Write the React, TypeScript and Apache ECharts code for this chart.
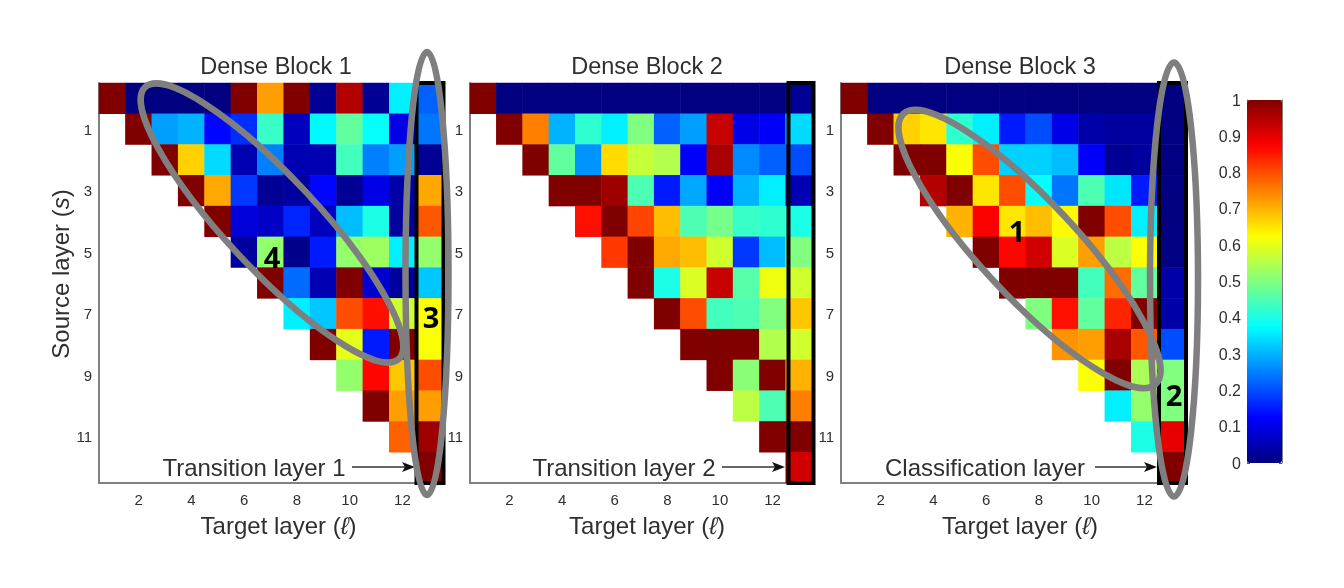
import React, { useEffect, useRef } from "react";
import * as echarts from "echarts";

const targetLayers = ["1","2","3","4","5","6","7","8","9","10","11","12","13"];
const sourceLayers = ["0","1","2","3","4","5","6","7","8","9","10","11","12"];
const jetColors = ["#000080","#0000ff","#0080ff","#00ffff","#80ff80","#ffff00","#ff8000","#ff0000","#800000"];
const colorbarTicks = [0, 1];

// each row starts on the diagonal: row r's first value belongs to column r + 1
const block1Rows = [
  [1,0,0,0,0,1,.72,1,.02,.95,.02,.36,.22],
  [1,.28,.3,.13,.17,.43,.06,.37,.47,.38,.1,.24],
  [1,.67,.34,.05,.25,.05,.05,.44,.25,.28,.02],
  [1,.71,.18,.02,.03,.13,.02,.1,.04,.71],
  [1,.09,.07,.16,.06,.31,.4,.03,.79],
  [.03,.52,.01,.15,.52,.53,.36,.52],
  [1,.23,.05,1,.08,.03,.32],
  [.36,.32,.8,.86,.58,.62],
  [1,.6,.15,1,.62],
  [.52,.87,.68,.8],
  [1,.72,.72],
  [.78,.97],
  [1],
];
const block2Rows = [
  [1,0,0,0,0,0,0,0,0,0,0,0,.02],
  [1,.75,.3,.42,.36,.5,.22,.28,.93,.1,.12,.34],
  [1,.47,.27,.66,.57,.55,.12,.96,.26,.22,.2],
  [1,1,.97,.45,.15,.29,.12,.3,.36,.05],
  [.86,1,.81,.69,.45,.49,.43,.42,.4],
  [.82,1,.71,.69,.58,.18,.31,.5],
  [1,.4,.59,.93,.46,.61,.58],
  [1,.8,.44,.45,.5,.68],
  [1,1,1,.55,.58],
  [1,.51,1,.7],
  [.56,.45,.75],
  [1,1],
  [.92],
];
const block3Rows = [
  [1,0,0,0,0,0,0,0,0,0,0,0,0],
  [1,.67,.65,.42,.36,.15,.2,.1,.04,.03,.03,0],
  [1,1,.62,.8,.33,.33,.31,.12,.02,.03,0],
  [.95,1,.65,.8,.38,.24,.45,.35,.15,0],
  [.7,.88,.65,.69,.63,1,.8,.36,0],
  [1,.87,.92,.59,.72,.56,.62,0],
  [1,1,1,.44,.77,.47,.04],
  [.5,.86,.47,.84,1,.04],
  [.73,.72,.96,.79,.2],
  [.62,1,.54,.5],
  [.36,.52,.5],
  [.4,.9],
  [1],
];
const titles = ["Dense Block 1", "Dense Block 2", "Dense Block 3"];
const notes = ["Transition layer 1", "Transition layer 2", "Classification layer"];

const font = "'Liberation Sans', Arial, sans-serif";
const axisGray = "#808080";
const textGray = "#2f2f2f";

const panels = [
  { left: 99, width: 343, titleX: 276, noteX: 254, arrow: [352, 415], box: [416.5, 443.5], nameShift: 16 },
  { left: 470, width: 342, titleX: 647, noteX: 624, arrow: [722, 785], box: [788.5, 813.5], nameShift: 12 },
  { left: 841, width: 343, titleX: 1020, noteX: 985, arrow: [1095, 1157], box: [1159, 1186], nameShift: 15 },
];
const top = 83;
const height = 400;

function cells(rows: number[][]) {
  const out: number[][] = [];
  rows.forEach((row, r) => row.forEach((v, i) => out.push([r + i, r, v])));
  return out;
}

function arrow(x0: number, x1: number, y: number) {
  return [
    { type: "line", silent: true, shape: { x1: x0, y1: y, x2: x1 - 6, y2: y }, style: { stroke: "#333", lineWidth: 1.6 } },
    { type: "polygon", silent: true, shape: { points: [[x1, y], [x1 - 13, y - 5], [x1 - 10, y], [x1 - 13, y + 5]] }, style: { fill: "#111" } },
  ];
}

function ellipse(x: number, y: number, rx: number, ry: number, deg: number) {
  return {
    type: "ellipse", silent: true, x, y, rotation: (deg * Math.PI) / 180, z: 20,
    shape: { cx: 0, cy: 0, rx, ry },
    style: { fill: "none", stroke: "#7f7f7f", lineWidth: 6.5 },
  };
}

function badge(text: string, x: number, y: number) {
  return {
    type: "text", silent: true, x, y, z: 30,
    style: { text, fill: "#000", font: "bold 29px 'Open Sans', 'Noto Sans', sans-serif", align: "center", verticalAlign: "middle" },
  };
}

export default function App() {
  const ref = useRef<HTMLDivElement>(null);
  useEffect(() => {
    const chart = echarts.init(ref.current!, undefined, { renderer: "svg" });
    const blocks = [block1Rows, block2Rows, block3Rows];
    const labelStyle = { color: textGray, fontFamily: font, fontSize: 15 };
    const nameRich = {
      a: { fontFamily: font, fontSize: 24, color: textGray },
      i: { fontFamily: font, fontSize: 24, color: textGray, fontStyle: "italic" as const },
    };
    const graphic: any[] = [];
    panels.forEach((p, i) => {
      graphic.push({
        type: "rect", silent: true, z: 10,
        shape: { x: p.box[0], y: top, width: p.box[1] - p.box[0], height },
        style: { fill: "none", stroke: "#000", lineWidth: 4 },
      });
      graphic.push({
        type: "text", silent: true, x: p.noteX, y: 467, z: 10,
        style: { text: notes[i], fill: textGray, font: `24px ${font}`, align: "center", verticalAlign: "middle" },
      });
      graphic.push(...arrow(p.arrow[0], p.arrow[1], 467));
    });
    graphic.push(ellipse(272, 223, 186, 46, -47));
    graphic.push(ellipse(1029.5, 249, 185, 48, -47));
    graphic.push(ellipse(427, 273.5, 21.5, 221.5, 0));
    graphic.push(ellipse(1174, 279.5, 24, 217, 0));
    graphic.push(badge("4", 272, 256), badge("3", 431, 316), badge("1", 1017, 230), badge("2", 1174, 394));

    chart.setOption({
      animation: false,
      backgroundColor: "#fff",
      title: panels.map((p, i) => ({
        text: titles[i], left: p.titleX, top: 54, textAlign: "center", padding: 0,
        textStyle: { fontFamily: font, fontSize: 23.5, fontWeight: "normal", color: textGray },
      })),
      grid: [
        ...panels.map((p) => ({ left: p.left, top, width: p.width, height })),
        { left: 1247, top: 100, width: 35, height: 363 },
      ],
      xAxis: [
        ...panels.map((p, i) => ({
          type: "category", gridIndex: i, data: targetLayers, position: "bottom",
          name: "{a|Target layer (}{i|ℓ}{a|)}", nameLocation: "middle", nameGap: 30,
          nameTextStyle: { rich: nameRich, padding: [0, 0, 0, p.nameShift] },
          axisLine: { onZero: false, lineStyle: { color: axisGray, width: 2 } },
          axisTick: { inside: true, length: 4, alignWithLabel: true, interval: (n: number) => n % 2 === 1 && n < 12, lineStyle: { color: axisGray } },
          axisLabel: { ...labelStyle, margin: 9, interval: (n: number) => n % 2 === 1 && n < 12 },
          splitLine: { show: false },
        })),
        { type: "value", gridIndex: 3, min: 0, max: 1, show: false },
      ],
      yAxis: [
        ...panels.map((_, i) => ({
          type: "category", gridIndex: i, data: sourceLayers, inverse: true,
          ...(i === 0
            ? {
                name: "{a|Source layer (}{i|s}{a|)}", nameLocation: "middle", nameGap: 26,
                nameTextStyle: { rich: nameRich, padding: [0, 0, 0, 18] },
              }
            : {}),
          axisLine: { onZero: false, lineStyle: { color: axisGray, width: 2 } },
          axisTick: { inside: true, length: 4, alignWithLabel: true, interval: (n: number) => n % 2 === 1, lineStyle: { color: axisGray } },
          axisLabel: { ...labelStyle, margin: 7, interval: (n: number) => n % 2 === 1 },
          splitLine: { show: false },
        })),
        {
          type: "value", gridIndex: 3, min: 0, max: 1, interval: 0.1, position: "left",
          axisLine: { show: true, onZero: false, lineStyle: { color: axisGray, width: 1 } },
          axisTick: { inside: true, length: 3, lineStyle: { color: "#555" } },
          axisLabel: { ...labelStyle, fontSize: 16, margin: 6 },
          splitLine: { show: false },
        },
        {
          type: "value", gridIndex: 3, min: 0, max: 1, interval: 0.1, position: "right",
          axisLine: { show: true, onZero: false, lineStyle: { color: axisGray, width: 1 } },
          axisTick: { inside: true, length: 3, lineStyle: { color: "#555" } },
          axisLabel: { show: false },
          splitLine: { show: false },
        },
      ],
      visualMap: {
        type: "continuous", min: colorbarTicks[0], max: colorbarTicks[1], seriesIndex: [0, 1, 2],
        orient: "vertical", left: 1247, top: 100, itemWidth: 35, itemHeight: 363, padding: 0,
        calculable: false, hoverLink: false, realtime: false,
        inRange: { color: jetColors },
      },
      series: blocks.map((rows, i) => ({
        type: "heatmap", xAxisIndex: i, yAxisIndex: i, data: cells(rows),
        silent: true, itemStyle: { borderWidth: 0 }, emphasis: { disabled: true }, progressive: 0,
      })),
      graphic: { elements: graphic },
    });
    return () => chart.dispose();
  }, []);
  return (
    <div
      ref={ref}
      style={{ position: "absolute", left: 0, top: 0, width: 1344, height: 588, filter: "blur(0.5px)" }}
    />
  );
}
